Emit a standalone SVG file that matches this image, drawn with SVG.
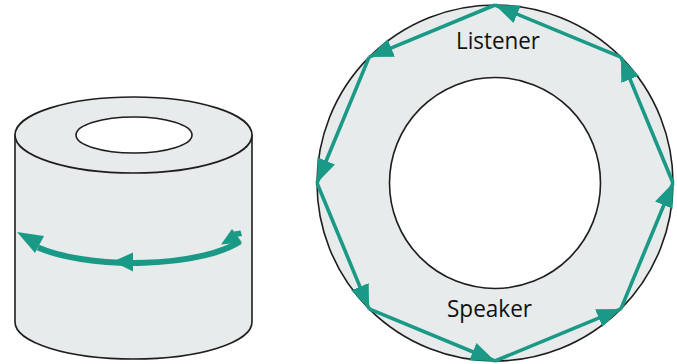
<svg xmlns="http://www.w3.org/2000/svg" width="677" height="364" viewBox="0 0 677 364">
  <style>
    .shape { fill: #e7ebeb; stroke: #1e1e1e; stroke-width: 1.6; }
    .hole { fill: #ffffff; stroke: #1e1e1e; stroke-width: 1.6; }
    .flow { fill: none; stroke: #1a9a86; stroke-width: 3.6; marker-end: url(#head); }
    .teal { fill: #1a9a86; }
    .label { font-family: "Open Sans", "Noto Sans", sans-serif; font-size: 23px; fill: #111111; }
  </style>
  <defs>
    <marker id="head" viewBox="0 0 24 19" refX="24" refY="9.5" markerWidth="24" markerHeight="19" markerUnits="userSpaceOnUse" orient="auto">
      <path d="M0,0 L24,9.5 L0,19 Z" fill="#1a9a86"/>
    </marker>
  </defs>

  <!-- Cylinder with a central bore -->
  <g id="cylinder">
    <path class="shape" d="M15,135 L15,322 A118.5,37 0 0 0 252,322 L252,135 Z"/>
    <ellipse class="shape" cx="133.5" cy="135" rx="118.5" ry="38"/>
    <ellipse class="hole" cx="134" cy="135" rx="58" ry="18"/>
  </g>

  <!-- Flow curving round the cylinder wall -->
  <g id="cylinder-flow">
    <path d="M240,241.6 A118.5,38 0 0 1 38,247.5" fill="none" stroke="#1a9a86" stroke-width="6"/>
    <polygon class="teal" points="17,232 44,236 35,253"/>
    <polygon class="teal" points="113,261.5 133,252.5 133,271.5"/>
    <polygon class="teal" points="232,229 221,244.5 242,242.5"/>
    <polygon class="teal" points="234,231.5 240.5,230.5 242,236 236,237"/>
  </g>

  <!-- Ring seen from above -->
  <g id="ring">
    <circle class="shape" cx="495" cy="183" r="178"/>
    <circle class="hole" cx="495" cy="183" r="105.5"/>
  </g>

  <!-- Octagonal circulation path on the ring -->
  <g id="connectors">
    <line class="flow" x1="495" y1="5" x2="369.1" y2="57.1"/>
    <line class="flow" x1="369.1" y1="57.1" x2="317" y2="183"/>
    <line class="flow" x1="317" y1="183" x2="369.1" y2="308.9"/>
    <line class="flow" x1="369.1" y1="308.9" x2="495" y2="361"/>
    <line class="flow" x1="495" y1="361" x2="620.9" y2="308.9"/>
    <line class="flow" x1="620.9" y1="308.9" x2="673" y2="183"/>
    <line class="flow" x1="673" y1="183" x2="620.9" y2="57.1"/>
    <line class="flow" x1="620.9" y1="57.1" x2="495" y2="5"/>
  </g>

  <g id="listener">
    <text class="label" x="456" y="49" textLength="84" lengthAdjust="spacingAndGlyphs">Listener</text>
  </g>
  <g id="speaker">
    <text class="label" x="447" y="317" textLength="85" lengthAdjust="spacingAndGlyphs">Speaker</text>
  </g>
</svg>
